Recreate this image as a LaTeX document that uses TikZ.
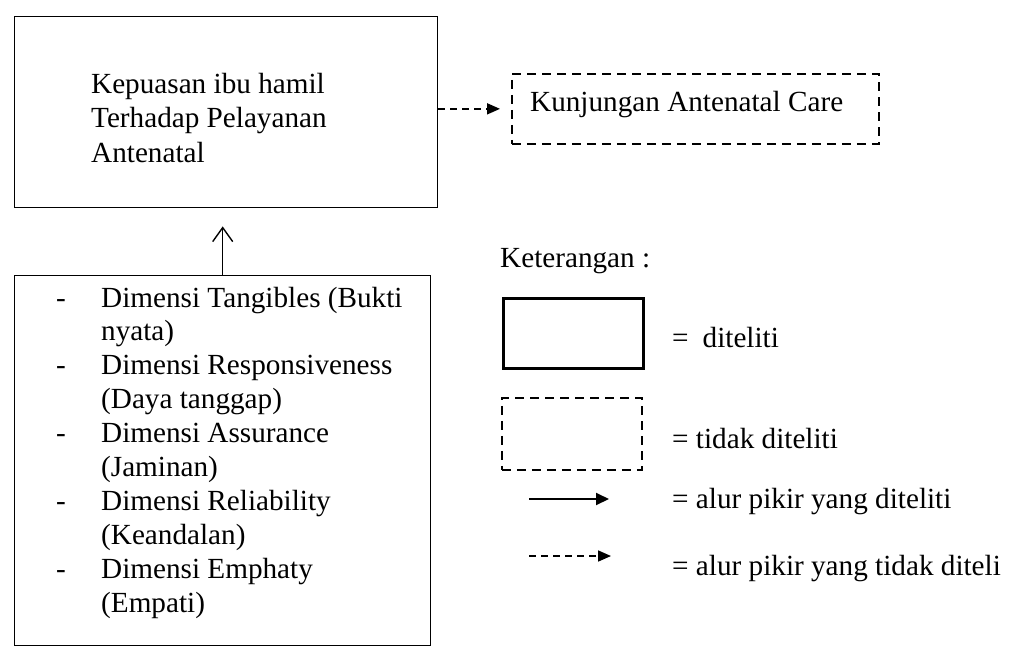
\documentclass[tikz,border=0pt]{standalone}
\usepackage{fontspec}
\setmainfont{Liberation Serif}
\usetikzlibrary{arrows.meta}
\begin{document}
\begin{tikzpicture}[x=1pt,y=-1pt,
  txt/.style={anchor=base west, inner sep=0pt, font=\fontsize{29.2}{34}\selectfont},
  solidbox/.style={draw, line width=1.4pt, anchor=north west, inner sep=0pt},
  thickbox/.style={draw, line width=3pt, anchor=north west, inner sep=0pt},
  dashbox/.style={draw, line width=1.7pt, dash pattern=on 9pt off 6pt, anchor=north west, inner sep=0pt},
  dasharrow/.style={line width=1.7pt, dash pattern=on 7pt off 5pt, -{Triangle[length=13pt,width=11pt]}},
  solidarrow/.style={line width=2pt, -{Triangle[length=13pt,width=12pt]}},
  uparrow/.style={line width=1.4pt, -{Straight Barb[length=14pt,width=20pt,line width=1.4pt]}}
]
\useasboundingbox (0,0) rectangle (1016,650);
\fill[white] (0,0) rectangle (1016,650);

% main boxes
\node[solidbox, minimum width=423pt, minimum height=191pt] (main) at (14,16) {};
\node[txt] (m1) at (91,94) {Kepuasan ibu hamil};
\node[txt] (m2) at (91,128) {Terhadap Pelayanan};
\node[txt] (m3) at (91,162) {Antenatal};

\node[dashbox, minimum width=367pt, minimum height=70pt] (care) at (511,73) {};
\node[txt] (caretext) at (530,112) {Kunjungan Antenatal Care};

\node[solidbox, minimum width=416pt, minimum height=370pt] (dims) at (14,275) {};

% list
\foreach \i/\t in {0/{Dimensi Tangibles (Bukti},1/{nyata)},2/{Dimensi Responsiveness},3/{(Daya tanggap)},4/{Dimensi Assurance},5/{(Jaminan)},6/{Dimensi Reliability},7/{(Keandalan)},8/{Dimensi Emphaty},9/{(Empati)}}{
  \node[txt] (d\i) at (101,307+33.9*\i) {\t};
}
\foreach \i in {0,2,4,6,8}{
  \node[txt] (b\i) at (56,307+33.9*\i) {-};
}

% connectors
\draw[dasharrow, shorten >=11pt] (main.east |- care.west) -- (care.west);
\draw[uparrow, shorten >=18pt] (dims.north) -- (dims.north |- main.south);

% legend
\node[txt] (ket) at (500,267) {Keterangan :};
\node[thickbox, minimum width=140pt, minimum height=70pt] (lg1) at (502,297) {};
\node[txt] (lt1) at (672,347) {=\hspace{14pt}diteliti};
\node[dashbox, minimum width=140pt, minimum height=72pt] (lg2) at (501,397) {};
\node[txt] (lt2) at (672,448) {= tidak diteliti};
\coordinate (a1s) at (529,499);
\coordinate (a1e) at (609,499);
\draw[solidarrow] (a1s) -- (a1e);
\node[txt] (lt3) at (672,508) {= alur pikir yang diteliti};
\coordinate (a2s) at (529,556);
\coordinate (a2e) at (611,556);
\draw[dasharrow] (a2s) -- (a2e);
\node[txt] (lt4) at (672,575) {= alur pikir yang tidak diteli};
\end{tikzpicture}
\end{document}
